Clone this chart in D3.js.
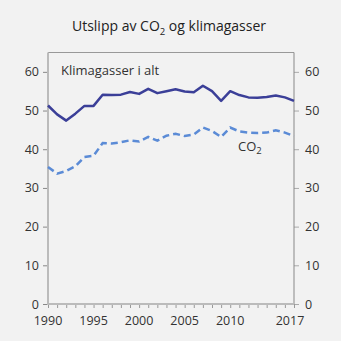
<!DOCTYPE html>
<html><head><meta charset="utf-8">
<script src="https://cdn.jsdelivr.net/npm/d3@7"></script>
<style>
html,body{margin:0;padding:0;background:#f2f2f2;}
svg{display:block;font-family:"Open Sans",sans-serif;}
</style></head><body>
<svg id="c" width="341" height="341"></svg>
<script>
const years = d3.range(1990, 2018);
const klimagasser = [51.3,49.0,47.4,49.2,51.2,51.2,54.1,54.0,54.1,54.8,54.3,55.6,54.5,55.0,55.5,54.9,54.7,56.4,55.0,52.5,55.0,54.0,53.4,53.3,53.5,53.9,53.4,52.5];
const co2 = [35.4,33.7,34.4,35.6,38.0,38.3,41.6,41.5,41.8,42.3,42.0,43.2,42.2,43.5,44.0,43.4,43.8,45.6,44.7,43.2,45.6,44.6,44.3,44.2,44.3,44.9,44.3,43.4];
const yTicks = [0,10,20,30,40,50,60];
const xTickLabels = [1990,1995,2000,2005,2010,2017];

const svg = d3.select("#c");
const L = 48, R = 294, T = 52.5, B = 304;
const x = d3.scaleLinear().domain([1990,2017]).range([L,R]);
const y = d3.scaleLinear().domain([0,65]).range([B,T]);

svg.append("text").attr("x",169).attr("y",31).attr("text-anchor","middle")
  .attr("font-size",14).attr("fill","#222").html('Utslipp av CO<tspan font-size="9.5" dy="4">2</tspan><tspan dy="-4"> og klimagasser</tspan>');

// frame top
svg.append("line").attr("x1",L).attr("x2",R).attr("y1",T).attr("y2",T).attr("stroke","#999").attr("stroke-width",1);

// left axis
const ly = svg.append("g").attr("transform",`translate(${L},0)`)
  .call(d3.axisLeft(y).tickValues(yTicks).tickSize(5).tickPadding(4));
ly.select(".domain").remove();
ly.selectAll(".tick line").attr("stroke","#888");
ly.selectAll("text").attr("font-size",12.5).attr("fill","#333").attr("font-family","Open Sans");
svg.append("line").attr("x1",L).attr("x2",L).attr("y1",T).attr("y2",B).attr("stroke","#bbb").attr("stroke-width",2);

// right axis
const ry = svg.append("g").attr("transform",`translate(${R},0)`)
  .call(d3.axisRight(y).tickValues(yTicks).tickSize(5).tickPadding(6));
ry.select(".domain").remove();
ry.selectAll(".tick line").attr("stroke","#aaa");
ry.selectAll("text").attr("font-size",12.5).attr("fill","#333").attr("font-family","Open Sans");
svg.append("line").attr("x1",R).attr("x2",R).attr("y1",T).attr("y2",B).attr("stroke","#888").attr("stroke-width",1);

// bottom axis
const bx = svg.append("g").attr("transform",`translate(0,${B})`)
  .call(d3.axisBottom(x).tickValues(years).tickSize(4).tickFormat(""));
bx.select(".domain").remove();
bx.selectAll(".tick line").attr("stroke","#999");
svg.append("line").attr("x1",L-1).attr("x2",R).attr("y1",B).attr("y2",B).attr("stroke","#bbb").attr("stroke-width",2);
svg.append("g").selectAll("text").data(xTickLabels).join("text")
  .attr("x",d=>x(d) - (d===2017?4:0)).attr("y",B+21).attr("text-anchor","middle")
  .attr("font-size",12.5).attr("fill","#333").text(d=>d);

const line = d3.line().x((d,i)=>x(years[i])).y(d=>y(d));
svg.append("path").datum(klimagasser).attr("d",line).attr("fill","none")
  .attr("stroke","#3b3f98").attr("stroke-width",2.5).attr("stroke-linejoin","round");
svg.append("path").datum(co2).attr("d",line).attr("fill","none")
  .attr("stroke","#5b8bd6").attr("stroke-width",2.5).attr("stroke-dasharray","7,4");

svg.append("text").attr("x",61).attr("y",75).attr("font-size",13).attr("fill","#333").text("Klimagasser i alt");
svg.append("text").attr("x",238).attr("y",151).attr("font-size",13).attr("fill","#333")
  .html('CO<tspan font-size="9.5" dy="3">2</tspan>');
</script>
</body></html>
